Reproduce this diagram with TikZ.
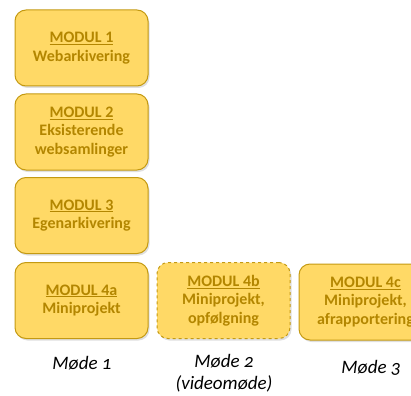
\documentclass[tikz,border=0pt]{standalone}
\usepackage{fontspec}
\setmainfont{Carlito}
\newfontfamily\moedefont[Numbers=OldStyle]{Carlito}
\usetikzlibrary{shadows,positioning}

\definecolor{modulfill}{HTML}{FFD966}
\definecolor{modulline}{HTML}{C49A12}
\definecolor{modultext}{HTML}{B38600}

\tikzset{
  modulbox/.style={draw=modulline,fill=modulfill,line width=1pt,rounded corners=11pt,
    minimum width=133pt,minimum height=76pt,align=center,text=modultext,
    font=\fontsize{16}{18.5}\selectfont\bfseries,
    drop shadow={opacity=0.25,shadow xshift=1.5pt,shadow yshift=-2pt}},
  moedelabel/.style={align=center,font=\moedefont\fontsize{19}{22}\selectfont\itshape}
}

\begin{document}
\begin{tikzpicture}[x=1pt,y=1pt]
  \useasboundingbox (0,0) rectangle (411,-395);
  \clip (0,0) rectangle (411,-395);

  % Moede 1
  \node[modulbox] (m1) at (81.5,-48) {\underline{MODUL 1}\\Webarkivering};
  \node[modulbox] (m2) at (81.5,-132) {\underline{MODUL 2}\\Eksisterende\\websamlinger};
  \node[modulbox] (m3) at (81.5,-215.5) {\underline{MODUL 3}\\Egenarkivering};
  \node[modulbox] (m4a) at (81.5,-300.5) {\underline{MODUL 4a}\\Miniprojekt};

  % Moede 2 og 3
  \node[modulbox,dashed] (m4b) at (223.5,-300.5) {\underline{MODUL 4b}\\Miniprojekt,\\opfølgning};
  \node[modulbox] (m4c) at (365.5,-302) {\underline{MODUL 4c}\\Miniprojekt,\\afrapportering};

  \node[moedelabel] (lbl1) at (82,-363) {Møde 1};
  \node[moedelabel] (lbl2) at (224,-373) {Møde 2\\(videomøde)};
  \node[moedelabel] (lbl3) at (371,-368) {Møde 3};
\end{tikzpicture}
\end{document}
